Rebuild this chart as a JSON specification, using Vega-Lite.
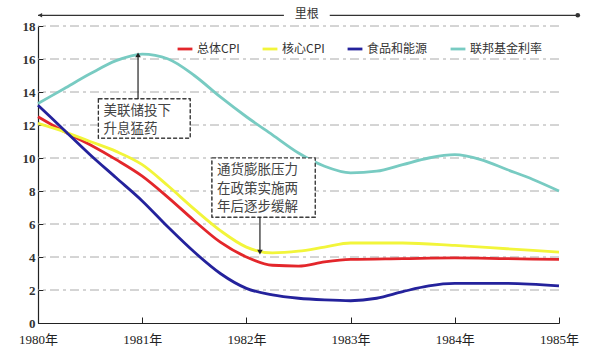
{
  "$schema": "https://vega.github.io/schema/vega-lite/v6.json",
  "width": 521,
  "height": 297,
  "autosize": {"type": "none"},
  "padding": {"left": 38, "top": 26, "right": 33, "bottom": 33},
  "background": "white",
  "config": {
    "view": {"stroke": null}
  },
  "datasets": {
    "series": [
      {"t": 1980.0, "s": "总体CPI", "v": 12.5},
      {"t": 1980.25, "s": "总体CPI", "v": 11.6},
      {"t": 1980.5, "s": "总体CPI", "v": 10.8},
      {"t": 1980.75, "s": "总体CPI", "v": 9.9},
      {"t": 1981.0, "s": "总体CPI", "v": 8.9},
      {"t": 1981.25, "s": "总体CPI", "v": 7.6},
      {"t": 1981.5, "s": "总体CPI", "v": 6.2},
      {"t": 1981.75, "s": "总体CPI", "v": 4.9},
      {"t": 1982.0, "s": "总体CPI", "v": 4.0},
      {"t": 1982.25, "s": "总体CPI", "v": 3.5},
      {"t": 1982.5, "s": "总体CPI", "v": 3.45},
      {"t": 1982.75, "s": "总体CPI", "v": 3.7},
      {"t": 1983.0, "s": "总体CPI", "v": 3.85},
      {"t": 1983.5, "s": "总体CPI", "v": 3.9},
      {"t": 1984.0, "s": "总体CPI", "v": 3.95},
      {"t": 1984.5, "s": "总体CPI", "v": 3.9},
      {"t": 1985.0, "s": "总体CPI", "v": 3.85},
      {"t": 1980.0, "s": "核心CPI", "v": 12.1},
      {"t": 1980.25, "s": "核心CPI", "v": 11.6},
      {"t": 1980.5, "s": "核心CPI", "v": 11.0},
      {"t": 1980.75, "s": "核心CPI", "v": 10.4},
      {"t": 1981.0, "s": "核心CPI", "v": 9.6},
      {"t": 1981.25, "s": "核心CPI", "v": 8.3},
      {"t": 1981.5, "s": "核心CPI", "v": 6.9},
      {"t": 1981.75, "s": "核心CPI", "v": 5.6},
      {"t": 1982.0, "s": "核心CPI", "v": 4.6},
      {"t": 1982.25, "s": "核心CPI", "v": 4.25},
      {"t": 1982.5, "s": "核心CPI", "v": 4.35},
      {"t": 1982.75, "s": "核心CPI", "v": 4.6},
      {"t": 1983.0, "s": "核心CPI", "v": 4.85},
      {"t": 1983.5, "s": "核心CPI", "v": 4.85},
      {"t": 1984.0, "s": "核心CPI", "v": 4.7},
      {"t": 1984.5, "s": "核心CPI", "v": 4.5},
      {"t": 1985.0, "s": "核心CPI", "v": 4.3},
      {"t": 1980.0, "s": "食品和能源", "v": 13.2},
      {"t": 1980.25, "s": "食品和能源", "v": 11.7},
      {"t": 1980.5, "s": "食品和能源", "v": 10.2},
      {"t": 1980.75, "s": "食品和能源", "v": 8.8},
      {"t": 1981.0, "s": "食品和能源", "v": 7.4},
      {"t": 1981.25, "s": "食品和能源", "v": 5.8},
      {"t": 1981.5, "s": "食品和能源", "v": 4.3},
      {"t": 1981.75, "s": "食品和能源", "v": 3.0},
      {"t": 1982.0, "s": "食品和能源", "v": 2.1},
      {"t": 1982.25, "s": "食品和能源", "v": 1.7},
      {"t": 1982.5, "s": "食品和能源", "v": 1.5},
      {"t": 1982.75, "s": "食品和能源", "v": 1.4},
      {"t": 1983.0, "s": "食品和能源", "v": 1.35},
      {"t": 1983.25, "s": "食品和能源", "v": 1.5},
      {"t": 1983.5, "s": "食品和能源", "v": 1.9},
      {"t": 1983.75, "s": "食品和能源", "v": 2.25},
      {"t": 1984.0, "s": "食品和能源", "v": 2.4},
      {"t": 1984.5, "s": "食品和能源", "v": 2.4},
      {"t": 1985.0, "s": "食品和能源", "v": 2.25},
      {"t": 1980.0, "s": "联邦基金利率", "v": 13.3},
      {"t": 1980.25, "s": "联邦基金利率", "v": 14.2},
      {"t": 1980.5, "s": "联邦基金利率", "v": 15.1},
      {"t": 1980.75, "s": "联邦基金利率", "v": 15.9},
      {"t": 1981.0, "s": "联邦基金利率", "v": 16.3},
      {"t": 1981.25, "s": "联邦基金利率", "v": 16.0},
      {"t": 1981.5, "s": "联邦基金利率", "v": 15.0},
      {"t": 1981.75, "s": "联邦基金利率", "v": 13.7},
      {"t": 1982.0, "s": "联邦基金利率", "v": 12.5},
      {"t": 1982.25, "s": "联邦基金利率", "v": 11.4},
      {"t": 1982.5, "s": "联邦基金利率", "v": 10.3},
      {"t": 1982.75, "s": "联邦基金利率", "v": 9.5},
      {"t": 1983.0, "s": "联邦基金利率", "v": 9.1},
      {"t": 1983.25, "s": "联邦基金利率", "v": 9.2},
      {"t": 1983.5, "s": "联邦基金利率", "v": 9.6},
      {"t": 1983.75, "s": "联邦基金利率", "v": 10.0},
      {"t": 1984.0, "s": "联邦基金利率", "v": 10.2},
      {"t": 1984.25, "s": "联邦基金利率", "v": 9.9},
      {"t": 1984.5, "s": "联邦基金利率", "v": 9.3},
      {"t": 1984.75, "s": "联邦基金利率", "v": 8.7},
      {"t": 1985.0, "s": "联邦基金利率", "v": 8.0}
    ],
    "gridlines": [
      {"g": 2}, {"g": 4}, {"g": 6}, {"g": 8}, {"g": 10}, {"g": 12}, {"g": 14}, {"g": 16}, {"g": 18}
    ],
    "boxes": [
      {"x1": 1980.58, "x2": 1981.46, "y1": 13.58, "y2": 11.2, "label": "美联储投下\n升息猛药"},
      {"x1": 1981.67, "x2": 1982.66, "y1": 10.0, "y2": 6.42, "label": "通货膨胀压力\n在政策实施两\n年后逐步缓解"}
    ],
    "arrows": [
      {"x": 1980.96, "from": 13.58, "to": 16.25, "dir": "triangle-up"},
      {"x": 1982.13, "from": 6.42, "to": 4.3, "dir": "triangle-down"}
    ],
    "era": [
      {"x1": 1980.0, "x2": 1982.36},
      {"x1": 1982.8, "x2": 1985.18}
    ]
  },
  "layer": [
    {
      "data": {"name": "boxes"},
      "mark": {"type": "rect", "fill": "white", "stroke": "#333333", "strokeWidth": 1.2, "strokeDash": [4, 2]},
      "encoding": {
        "x": {
          "field": "x1", "type": "quantitative",
          "scale": {"domain": [1980, 1985], "nice": false, "zero": false},
          "axis": {
            "title": null, "values": [1980, 1981, 1982, 1983, 1984, 1985], "tickCount": 20,
            "labelExpr": "datum.value + '年'", "labelFont": "Liberation Serif, Noto Sans CJK SC",
            "labelFontSize": 13, "labelColor": "#222222", "labelPadding": 16,
            "tickSize": -6, "tickColor": "#222222", "domainColor": "#222222", "domainWidth": 1.2,
            "grid": false, "labelFlush": false, "labelOverlap": false
          }
        },
        "x2": {"field": "x2"},
        "y": {
          "field": "y1", "type": "quantitative",
          "scale": {"domain": [0, 18], "nice": false},
          "axis": {
            "title": null, "values": [0, 2, 4, 6, 8, 10, 12, 14, 16, 18], "tickCount": 20,
            "labelFont": "Liberation Serif", "labelFontSize": 13, "labelFontWeight": "bold",
            "labelColor": "#333333", "labelPadding": 8, "labelOverlap": false, "labelFlush": false,
            "tickSize": -5, "tickColor": "#222222", "domainColor": "#222222", "domainWidth": 1.2,
            "grid": false
          }
        },
        "y2": {"field": "y2"}
      }
    },
    {
      "data": {"name": "gridlines"},
      "mark": {"type": "rule", "stroke": "#aaaaaa", "strokeWidth": 1, "strokeDash": [9, 4, 3, 4]},
      "encoding": {
        "y": {"field": "g", "type": "quantitative"}
      }
    },
    {
      "data": {"name": "series"},
      "mark": {"type": "line", "interpolate": "monotone"},
      "encoding": {
        "x": {"field": "t", "type": "quantitative"},
        "y": {"field": "v", "type": "quantitative"},
        "color": {
          "field": "s", "type": "nominal",
          "scale": {
            "domain": ["总体CPI", "核心CPI", "食品和能源", "联邦基金利率"],
            "range": ["#e3262b", "#f2f53a", "#24229c", "#78cbc2"]
          },
          "legend": {
            "title": null, "orient": "none", "direction": "horizontal",
            "legendX": 138, "legendY": 14,
            "symbolType": "stroke", "symbolStrokeWidth": 3, "symbolSize": 220,
            "labelFont": "Noto Sans CJK SC", "labelFontSize": 12, "labelColor": "#333333",
            "columnPadding": 16, "labelOffset": 3
          }
        },
        "strokeWidth": {
          "field": "s", "type": "nominal",
          "scale": {
            "domain": ["总体CPI", "核心CPI", "食品和能源", "联邦基金利率"],
            "range": [2.8, 2.8, 2.8, 1.5]
          },
          "legend": null
        }
      }
    },
    {
      "data": {"name": "boxes"},
      "mark": {"type": "rect", "fill": "white", "stroke": "#333333", "strokeWidth": 1.2, "strokeDash": [4, 2]},
      "encoding": {
        "x": {"field": "x1", "type": "quantitative"},
        "x2": {"field": "x2"},
        "y": {"field": "y1", "type": "quantitative"},
        "y2": {"field": "y2"}
      }
    },
    {
      "data": {"name": "boxes"},
      "mark": {"type": "text", "align": "left", "baseline": "top", "dx": 5, "dy": 5, "lineBreak": "\n", "lineHeight": 18.5, "font": "Noto Sans CJK SC", "fontSize": 13.5, "fill": "#444444"},
      "encoding": {
        "x": {"field": "x1", "type": "quantitative"},
        "y": {"field": "y1", "type": "quantitative"},
        "text": {"field": "label"}
      }
    },
    {
      "data": {"name": "arrows"},
      "mark": {"type": "rule", "stroke": "#222222", "strokeWidth": 1.2},
      "encoding": {
        "x": {"field": "x", "type": "quantitative"},
        "y": {"field": "from", "type": "quantitative"},
        "y2": {"field": "to"}
      }
    },
    {
      "data": {"name": "arrows"},
      "mark": {"type": "point", "filled": true, "fill": "#222222", "size": 30, "opacity": 1},
      "encoding": {
        "x": {"field": "x", "type": "quantitative"},
        "y": {"field": "to", "type": "quantitative"},
        "shape": {"field": "dir", "type": "nominal", "scale": null}
      }
    },
    {
      "data": {"name": "era"},
      "mark": {"type": "rule", "stroke": "#333333", "strokeWidth": 1.2, "clip": false},
      "encoding": {
        "x": {"field": "x1", "type": "quantitative"},
        "x2": {"field": "x2"},
        "y": {"datum": 18.65}
      }
    },
    {
      "data": {"values": [{"x": 1980.02, "shape": "triangle-left"}, {"x": 1985.18, "shape": "circle"}]},
      "mark": {"type": "point", "filled": true, "fill": "#333333", "size": 22, "opacity": 1, "clip": false},
      "encoding": {
        "x": {"field": "x", "type": "quantitative"},
        "y": {"datum": 18.65},
        "shape": {"field": "shape", "type": "nominal", "scale": null}
      }
    },
    {
      "data": {"values": [{"x": 1982.58, "label": "里根"}]},
      "mark": {"type": "text", "font": "Noto Sans CJK SC", "fontSize": 12, "fill": "#333333", "baseline": "middle", "clip": false},
      "encoding": {
        "x": {"field": "x", "type": "quantitative"},
        "y": {"datum": 18.7},
        "text": {"field": "label"}
      }
    }
  ]
}
